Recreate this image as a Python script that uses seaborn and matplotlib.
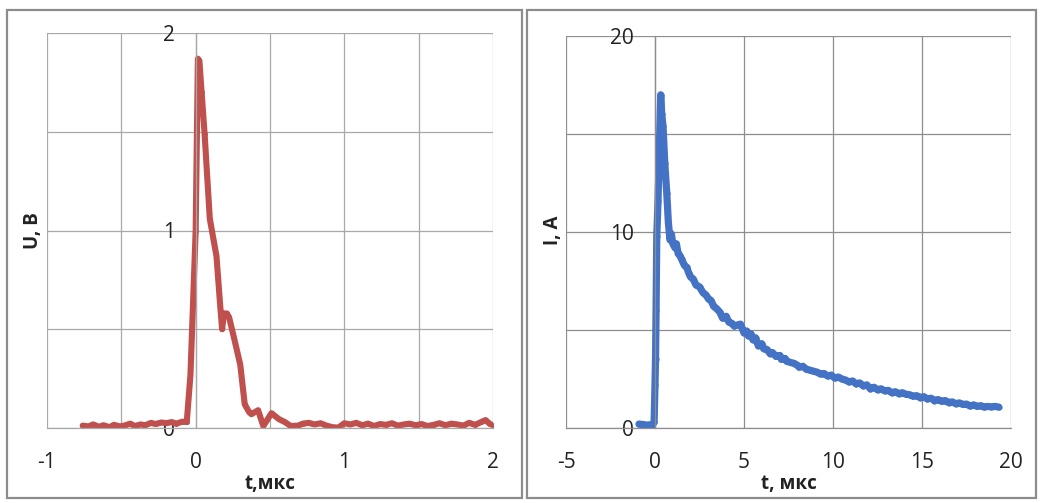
import numpy as np
import pandas as pd
import matplotlib
matplotlib.use("Agg")
import matplotlib.pyplot as plt
from matplotlib.patches import Rectangle
from matplotlib.ticker import FixedLocator
import seaborn as sns

# ---- data: voltage pulse U(t) ----
t_u = [-0.76, -0.72, -0.69, -0.65, -0.62, -0.58, -0.55, -0.51, -0.48, -0.44,
       -0.41, -0.37, -0.34, -0.30, -0.27, -0.23, -0.20, -0.16, -0.13, -0.09,
       -0.06, -0.035, 0.0, 0.015, 0.025, 0.04, 0.06, 0.095, 0.14, 0.165,
       0.178, 0.19, 0.21, 0.225, 0.26, 0.30, 0.33, 0.36, 0.375, 0.42,
       0.455, 0.51, 0.56, 0.60, 0.64, 0.69, 0.72, 0.76, 0.80, 0.84,
       0.88, 0.92, 0.96, 1.00, 1.04, 1.08, 1.12, 1.16, 1.20, 1.24,
       1.28, 1.32, 1.36, 1.40, 1.44, 1.48, 1.52, 1.56, 1.60, 1.64,
       1.68, 1.72, 1.76, 1.80, 1.84, 1.88, 1.92, 1.95, 1.98, 2.00]
u_v = [0.012, 0.008, 0.018, 0.006, 0.014, 0.004, 0.016, 0.008, 0.012, 0.022,
       0.010, 0.018, 0.014, 0.026, 0.020, 0.028, 0.024, 0.030, 0.022, 0.032,
       0.030, 0.27, 1.00, 1.87, 1.86, 1.70, 1.49, 1.06, 0.87, 0.62,
       0.50, 0.58, 0.58, 0.56, 0.45, 0.32, 0.12, 0.08, 0.07, 0.09,
       0.01, 0.075, 0.045, 0.03, 0.01, 0.012, 0.022, 0.026, 0.018, 0.024,
       0.012, 0.004, 0.002, 0.024, 0.018, 0.026, 0.014, 0.022, 0.010, 0.020,
       0.016, 0.024, 0.012, 0.018, 0.022, 0.014, 0.020, 0.010, 0.016, 0.024,
       0.014, 0.022, 0.018, 0.012, 0.026, 0.016, 0.030, 0.040, 0.020, 0.015]

# ---- data: current pulse I(t) ----
t_i = [-0.9, -0.7, -0.5, -0.3, -0.15, -0.05, 0.0, 0.03, 0.06, 0.1,
       0.17, 0.25, 0.32, 0.38, 0.45, 0.55, 0.66, 0.75, 0.84, 0.92,
       1.0, 1.12, 1.2, 1.3, 1.4, 1.5, 1.65, 1.78, 1.9, 2.0,
       2.15, 2.3, 2.5, 2.7, 2.85, 3.0, 3.15, 3.3, 3.45, 3.65,
       3.8, 4.0, 4.15, 4.3, 4.45, 4.6, 4.8, 5.0, 5.15, 5.25,
       5.4, 5.5, 5.65, 5.8, 6.0, 6.1, 6.3, 6.46, 6.6, 6.8,
       7.0, 7.1, 7.3, 7.4, 7.6, 7.8, 8.0, 8.1, 8.3, 8.5,
       8.7, 8.9, 9.1, 9.3, 9.5, 9.7, 9.9, 10.1, 10.3, 10.5,
       10.7, 10.9, 11.1, 11.3, 11.5, 11.7, 11.9, 12.1, 12.3, 12.5,
       12.7, 12.9, 13.1, 13.3, 13.5, 13.7, 13.9, 14.1, 14.3, 14.5,
       14.7, 14.9, 15.1, 15.3, 15.5, 15.7, 15.9, 16.1, 16.3, 16.5,
       16.7, 16.9, 17.1, 17.3, 17.5, 17.7, 17.9, 18.1, 18.3, 18.5,
       18.7, 18.9, 19.1, 19.3]
i_a = [0.20, 0.18, 0.15, 0.16, 0.14, 0.30, 2.2, 3.5, 6.0, 9.8,
       11.6, 14.5, 17.0, 16.0, 15.4, 13.5, 12.0, 10.5, 9.6, 9.9,
       9.4, 9.2, 9.4, 8.9, 8.8, 8.6, 8.3, 8.2, 7.9, 7.7,
       7.6, 7.3, 7.2, 6.9, 6.8, 6.6, 6.5, 6.2, 6.1, 5.9,
       5.6, 5.7, 5.4, 5.35, 5.2, 5.25, 5.3, 4.85, 4.95, 4.7,
       4.8, 4.5, 4.6, 4.2, 4.3, 4.05, 4.0, 3.8, 3.85, 3.65,
       3.7, 3.5, 3.55, 3.4, 3.35, 3.3, 3.2, 3.1, 3.15, 3.0,
       2.95, 2.9, 2.85, 2.75, 2.78, 2.65, 2.7, 2.55, 2.6, 2.50,
       2.45, 2.35, 2.4, 2.25, 2.3, 2.15, 2.2, 2.00, 2.08, 1.95,
       2.0, 1.90, 1.92, 1.80, 1.85, 1.75, 1.80, 1.72, 1.70, 1.62,
       1.65, 1.55, 1.60, 1.48, 1.52, 1.40, 1.45, 1.36, 1.40, 1.30,
       1.33, 1.24, 1.28, 1.20, 1.22, 1.12, 1.18, 1.10, 1.14, 1.07,
       1.10, 1.08, 1.10, 1.07]

u_xticks = [-1, 0, 1, 2]
u_yticks = [0, 1, 2]
i_xticks = [-5, 0, 5, 10, 15, 20]
i_yticks = [0, 10, 20]

sns.set_style("white")
plt.rcParams["font.family"] = ["Open Sans", "DejaVu Sans"]
plt.rcParams["axes.unicode_minus"] = False

W, H = 1040, 503
fig = plt.figure(figsize=(W / 100, H / 100), dpi=100)

def fx(px):
    return px / W

def fy(py):
    return 1 - py / H

# panel frames
for (x0, x1) in [(7, 522), (527, 1036)]:
    fig.patches.append(Rectangle((fx(x0), fy(498)), fx(x1 - x0), (498 - 10) / H,
                                 transform=fig.transFigure, fill=False,
                                 edgecolor="#8c8c8c", linewidth=1.6, zorder=0))

def style_axes(ax, xlim, ylim, xmaj, xmin, ymaj, ymin, xlabel, ylabel, ylabel_x, grid_c):
    ax.set_xlim(*xlim)
    ax.set_ylim(*ylim)
    ax.xaxis.set_major_locator(FixedLocator(xmaj))
    ax.xaxis.set_minor_locator(FixedLocator(xmin))
    ax.yaxis.set_major_locator(FixedLocator(ymaj))
    ax.yaxis.set_minor_locator(FixedLocator(ymin))
    ax.grid(True, which="both", color=grid_c, linewidth=0.9)
    ax.set_axisbelow(True)
    for s in ["top", "right"]:
        ax.spines[s].set_visible(False)
    ax.spines["left"].set_position(("data", 0))
    ax.spines["left"].set_color(grid_c)
    ax.spines["left"].set_linewidth(0.9)
    ax.spines["bottom"].set_color(grid_c)
    ax.spines["bottom"].set_linewidth(0.9)
    ax.tick_params(axis="x", which="major", length=5, width=0.9, color=grid_c,
                   direction="out", pad=12, labelsize=15, labelcolor="#222222")
    ax.tick_params(axis="x", which="minor", length=0)
    ax.tick_params(axis="y", which="both", length=0, pad=15, labelsize=15,
                   labelcolor="#222222")
    ax.set_xlabel(xlabel, fontsize=13.5, fontweight="bold", labelpad=1, color="#222222")
    ax.set_ylabel("")
    fig.text(ylabel_x, 0.5 * (fy(33) + fy(428)), ylabel, rotation=90,
             fontsize=13.5, fontweight="bold", ha="center", va="center", color="#222222")

ax1 = fig.add_axes([fx(47), fy(428), fx(493 - 47), (428 - 33) / H])
sns.lineplot(x=t_u, y=u_v, ax=ax1, color="#C0504D", linewidth=4.4,
             marker="o", markersize=3.5, markeredgewidth=0, estimator=None, sort=False)
style_axes(ax1, (-1, 2), (0, 2), u_xticks, [-0.5, 0.5, 1.5], u_yticks, [0.5, 1.5],
           "t,мкс", "U, В", fx(33), "#a8a8a8")

ax2 = fig.add_axes([fx(566), fy(428), fx(1011 - 566), (428 - 36) / H])
sns.lineplot(x=t_i, y=i_a, ax=ax2, color="#4472C4", linewidth=5.2,
             marker="o", markersize=4.5, markeredgewidth=0, estimator=None, sort=False)
style_axes(ax2, (-5, 20), (0, 20), i_xticks, [], i_yticks, [5, 15],
           "t, мкс", "I, A", fx(553), "#8e8e8e")

fig.savefig("out.png", dpi=100)
